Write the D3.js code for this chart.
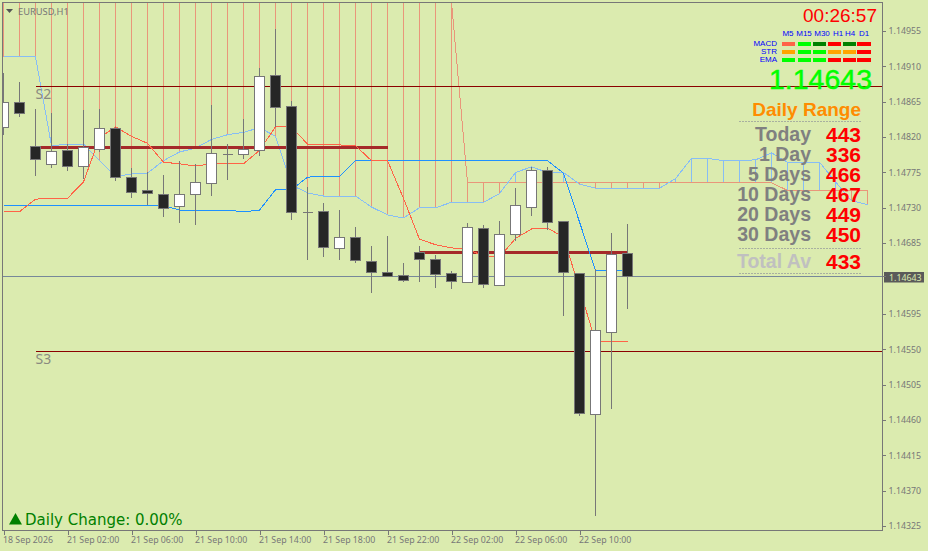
<!DOCTYPE html>
<html><head><meta charset="utf-8">
<script src="https://cdn.jsdelivr.net/npm/d3@7/dist/d3.min.js"></script>
<style>html,body{margin:0;padding:0;background:#dbebaf;overflow:hidden}svg{display:block}text{white-space:pre}</style>
</head><body><svg id="c" width="928" height="551"></svg>
<script>
const opens=[1.14833,1.14865,1.14809,1.14786,1.14803,1.14783,1.14805,1.14832,1.14769,1.14753,1.14747,1.14732,1.14747,1.14761,1.14799,1.14798,1.14803,1.14899,1.14860,1.14725,1.14726,1.14679,1.14693,1.14662,1.14648,1.14644,1.14674,1.14665,1.14647,1.14635,1.14704,1.14632,1.14697,1.14731,1.14778,1.14713,1.14647,1.14467,1.14572,1.14672];
const highs=[1.14901,1.14890,1.14856,1.14851,1.14811,1.14855,1.14856,1.14833,1.14781,1.14775,1.14772,1.14790,1.14786,1.14861,1.14811,1.14843,1.14908,1.14957,1.14866,1.14757,1.14736,1.14727,1.14706,1.14681,1.14694,1.14660,1.14681,1.14670,1.14650,1.14711,1.14708,1.14713,1.14755,1.14782,1.14782,1.14713,1.14647,1.14652,1.14698,1.14709];
const lows=[1.14823,1.14846,1.14770,1.14781,1.14777,1.14767,1.14801,1.14764,1.14742,1.14734,1.14718,1.14711,1.14708,1.14745,1.14765,1.14792,1.14796,1.14833,1.14714,1.14663,1.14667,1.14663,1.14660,1.14621,1.14643,1.14635,1.14635,1.14628,1.14627,1.14635,1.14628,1.14632,1.14688,1.14720,1.14702,1.14592,1.14465,1.14338,1.14474,1.14601];
const closes=[1.14865,1.14851,1.14792,1.14802,1.14783,1.14807,1.14832,1.14769,1.14750,1.14749,1.14730,1.14747,1.14763,1.14800,1.14799,1.14805,1.14898,1.14858,1.14725,1.14725,1.14680,1.14693,1.14663,1.14648,1.14643,1.14638,1.14665,1.14646,1.14637,1.14706,1.14633,1.14697,1.14734,1.14778,1.14712,1.14648,1.14469,1.14575,1.14671,1.14643];
const tenkan=[1.14725,1.14725,1.14741,1.14742,1.14742,1.14763,1.14819,1.14833,1.14821,1.14812,1.14788,1.14786,1.14783,1.14786,1.14786,1.14786,1.14803,1.14833,1.14833,1.14811,1.14810,1.14810,1.14809,1.14790,1.14790,1.14742,1.14690,1.14683,1.14679,1.14677,1.14669,1.14667,1.14691,1.14703,1.14704,1.14693,1.14627,1.14560,1.14560,1.14560];
const kijun=[1.14733,1.14733,1.14733,1.14733,1.14733,1.14733,1.14733,1.14733,1.14733,1.14733,1.14733,1.14727,1.14727,1.14727,1.14727,1.14725,1.14727,1.14753,1.14753,1.14769,1.14770,1.14770,1.14790,1.14790,1.14790,1.14790,1.14790,1.14790,1.14790,1.14790,1.14790,1.14790,1.14790,1.14790,1.14790,1.14774,1.14712,1.14650,1.14650,1.14650];
const spanA=[1.14992,1.14992,1.14992,1.14992,1.14992,1.14992,1.14992,1.14992,1.14992,1.14992,1.14992,1.14992,1.14992,1.14992,1.14992,1.14992,1.14992,1.14992,1.14992,1.14992,1.14992,1.14992,1.14992,1.14992,1.14992,1.14992,1.14992,1.14992,1.14992,1.14762,1.14762,1.14762,1.14762,1.14762,1.14762,1.14762,1.14762,1.14762,1.14762,1.14762,1.14762,1.14762,1.14762,1.14762,1.14762,1.14762,1.14762,1.14762,1.14762,1.14752,1.14752,1.14752,1.14752,1.14752,1.14752];
const spanB=[1.14922,1.14922,1.14922,1.14809,1.14811,1.14811,1.14790,1.14770,1.14773,1.14774,1.14790,1.14801,1.14806,1.14817,1.14823,1.14826,1.14832,1.14821,1.14759,1.14749,1.14745,1.14745,1.14745,1.14731,1.14721,1.14717,1.14730,1.14730,1.14737,1.14737,1.14737,1.14748,1.14775,1.14782,1.14775,1.14775,1.14760,1.14755,1.14755,1.14755,1.14755,1.14755,1.14767,1.14793,1.14793,1.14790,1.14790,1.14791,1.14800,1.14788,1.14788,1.14788,1.14763,1.14739,1.14734];
const priceTicks=[1.14955,1.14910,1.14865,1.14820,1.14775,1.14730,1.14685,1.14595,1.14550,1.14505,1.14460,1.14415,1.14370,1.14325];
const timeTickBars=[0,4,8,12,16,20,24,28,32,36];
const timeTickLabels=["18 Sep 2026","21 Sep 02:00","21 Sep 06:00","21 Sep 10:00","21 Sep 14:00","21 Sep 18:00","21 Sep 22:00","22 Sep 02:00","22 Sep 06:00","22 Sep 10:00"];
const lastPrice=1.14643, s2=1.14885, s3=1.14548;
const pivotA=[1.14808,2,24], pivotB=[1.14674,26,39];
const tfLabels=["M5","M15","M30","H1","H4","D1"];
const sigNames=["MACD","STR","EMA"];
const sigMACD=["#ff6347","#00ff00","#008000","#ff0000","#008000","#ff0000"];
const sigSTR=["#ffa500","#00ff00","#00ff00","#ffa500","#ffa500","#ff0000"];
const sigEMA=["#00ff00","#00ff00","#00ff00","#ff0000","#ff0000","#ff0000"];
const rangeLabels=["Today","1 Day","5 Days","10 Days","20 Days","30 Days","Total Av"];
const rangeValues=[443,336,466,467,449,450,433];

const L=2.5,T=2.5,R=882.5,B=530.5;
const svg=d3.select("#c");
const x=d3.scaleLinear().domain([0,39]).range([3.5,627.5]);
const y=d3.scaleLinear().domain([1.14955,1.14325]).range([31,526]);
const snap=p=>Math.round(y(p))+.5;
const GREY="#777777", SANS="'Noto Sans',sans-serif", BOLD="'Liberation Sans',Arial,sans-serif";

svg.append("defs").append("clipPath").attr("id","pl").append("rect").attr("x",L).attr("y",T).attr("width",R-L).attr("height",B-T);
const g=svg.append("g").attr("clip-path","url(#pl)").attr("shape-rendering","crispEdges");

const SAL="#e9967a", LB="#87bdf5";
g.selectAll("line.cl").data(spanA).join("line").attr("class","cl")
 .attr("x1",(d,i)=>x(i)).attr("x2",(d,i)=>x(i)).attr("y1",d=>y(d)).attr("y2",(d,i)=>y(spanB[i]))
 .attr("stroke",(d,i)=>d>spanB[i]?SAL:LB).attr("stroke-width",1);
const ln=d3.line().x((d,i)=>x(i)).y(d=>y(d));
const path=(v,c)=>g.append("path").attr("d",ln(v)).attr("fill","none").attr("stroke",c).attr("stroke-width",1);
path(spanA,SAL); path(spanB,LB);
const hline=(p,a,b,c,w)=>g.append("line").attr("x1",a).attr("x2",b).attr("y1",snap(p)).attr("y2",snap(p)).attr("stroke",c).attr("stroke-width",w);
hline(s2,x(2),R,"#8b0000",1); hline(s3,x(2),R,"#8b0000",1);
hline(pivotA[0],x(pivotA[1]),x(pivotA[2]),"#a52a2a",3);
hline(pivotB[0],x(pivotB[1]),x(pivotB[2]),"#a52a2a",3);
path(kijun,"#1e90ff"); path(tenkan,"#ff6347");
hline(lastPrice,L,R,"#778899",1);

const cg=g.selectAll("g.k").data(opens).join("g").attr("class","k");
cg.append("line").attr("x1",(d,i)=>x(i)).attr("x2",(d,i)=>x(i)).attr("y1",(d,i)=>y(highs[i])).attr("y2",(d,i)=>y(lows[i])).attr("stroke",GREY);
cg.append("path").attr("d",(d,i)=>{
   const a=snap(Math.max(d,closes[i])), b=snap(Math.min(d,closes[i])), l=x(i)-5;
   return `M${l} ${a}H${l+10}V${b}H${l}Z`;})
 .attr("fill",(d,i)=>closes[i]>=d?"#ffffff":"#262626").attr("stroke",GREY);

const tx=(s,xx,yy,o)=>{o=o||{};return svg.append("text").attr("x",xx).attr("y",yy).text(s).attr("fill",o.c||GREY)
 .attr("font-family",o.f||SANS).attr("font-size",o.s||9).attr("font-weight",o.w||"normal").attr("text-anchor",o.a||"start");};
tx("S2",35.5,99,{s:14,c:"#8a8a80"}); tx("S3",35.5,364,{s:14,c:"#8a8a80"});

svg.append("rect").attr("x",L).attr("y",T).attr("width",R-L).attr("height",B-T).attr("fill","none").attr("stroke",GREY).attr("shape-rendering","crispEdges");

const ay=svg.append("g").attr("transform",`translate(${R},0)`).call(d3.axisRight(y).tickValues(priceTicks).tickFormat(d3.format(".5f")).tickSize(3).tickPadding(3));
const ax=svg.append("g").attr("transform",`translate(0,${B})`).call(d3.axisBottom(x).tickValues(timeTickBars).tickFormat((d,i)=>timeTickLabels[i]).tickSize(4).tickPadding(2));
[ay,ax].forEach(a=>{a.select(".domain").remove();a.selectAll("line").attr("stroke",GREY).attr("shape-rendering","crispEdges");
 a.selectAll("text").attr("fill",GREY).attr("font-family",SANS).attr("font-size",8.8);});
ax.selectAll("text").attr("text-anchor","start").attr("dx",-1);

svg.append("rect").attr("x",884).attr("y",272).attr("width",40).attr("height",10.5).attr("fill","#5a5a5a");
tx("1.14643",889,280.5,{s:8.8,c:"#dbebaf"});
svg.append("line").attr("x1",R).attr("x2",R+3).attr("y1",snap(lastPrice)).attr("y2",snap(lastPrice)).attr("stroke",GREY).attr("shape-rendering","crispEdges");

svg.append("path").attr("d","M6 9h7l-3.5 4z").attr("fill","#555");
tx("EURUSD,H1",18,14.5,{s:9.3});

tx("00:26:57",877,22,{f:BOLD,s:19,c:"#ff0000",a:"end"});
const cols=[[782,795],[798,811],[813,826],[828,841],[843,856],[857,871]];
const tfX=[788,804,822,838,850,864];
tfLabels.forEach((t,i)=>tx(t,tfX[i],36,{f:BOLD,s:8,c:"#0000ff",a:"middle"}));
[sigMACD,sigSTR,sigEMA].forEach((row,r)=>{
 const yy=42+8*r;
 tx(sigNames[r],777,yy+4,{f:BOLD,s:8,c:"#0000ff",a:"end"});
 row.forEach((c,i)=>svg.append("rect").attr("x",cols[i][0]).attr("y",yy).attr("width",cols[i][1]-cols[i][0]).attr("height",4).attr("fill",c));
});
tx("1.14643",872,89,{f:BOLD,s:28.5,c:"#00ff00",a:"end"}).attr("stroke","#00ff00").attr("stroke-width",.5);
tx("Daily Range",861,116,{f:BOLD,s:19,w:"bold",c:"#ff8c00",a:"end"});
[121.5,248.5,273.5].forEach(v=>svg.append("line").attr("x1",739).attr("x2",862).attr("y1",v).attr("y2",v).attr("stroke","#a8b0a0").attr("stroke-dasharray","2 1").attr("shape-rendering","crispEdges"));
const rowY=[141,161,181,201,221,241,268];
rangeLabels.forEach((t,i)=>{
 tx(t,811,rowY[i],{f:BOLD,s:19.5,w:"bold",c:i==6?"#c0c0c0":"#808080",a:"end"});
 tx(String(rangeValues[i]),826,rowY[i]+0.5,{f:BOLD,s:21,w:"bold",c:"#ff0000"});
});

svg.append("path").attr("d","M9 524.5L15.5 513L22 524.5z").attr("fill","#008000");
tx("Daily Change: 0.00%",25,525,{f:"'DejaVu Sans',sans-serif",s:15,c:"#008000"});
</script></body></html>
